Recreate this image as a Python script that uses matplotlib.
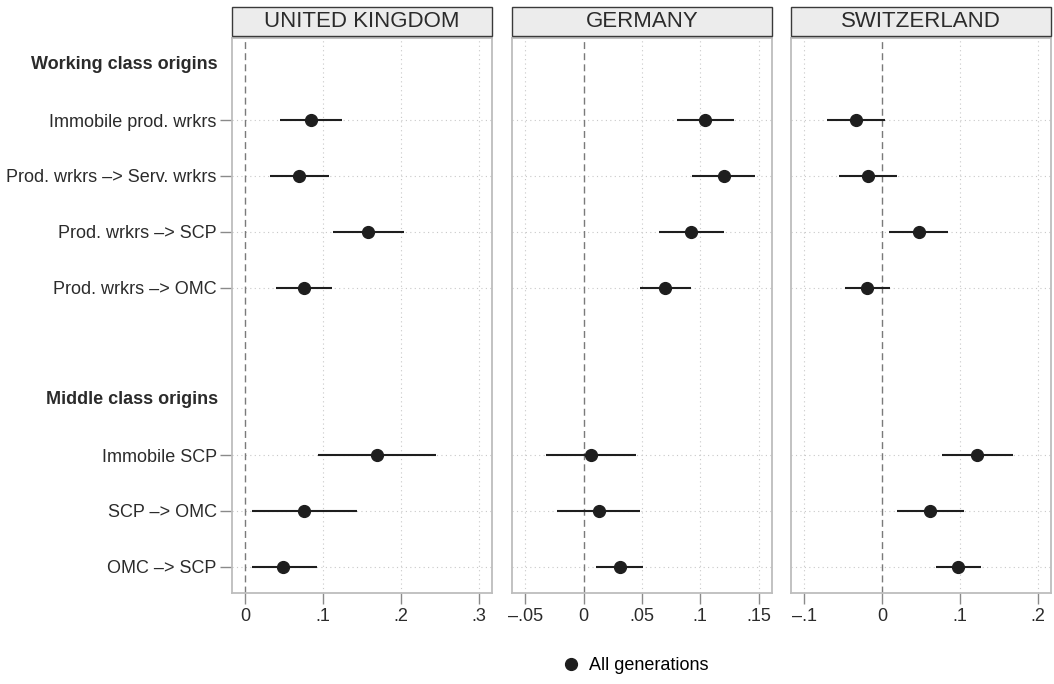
import matplotlib
matplotlib.use("Agg")
import matplotlib.pyplot as plt
from matplotlib.patches import Rectangle
from matplotlib.lines import Line2D
import numpy as np

plt.rcParams['font.family'] = ['Liberation Sans', 'DejaVu Sans']

# ---------------- data ----------------
countries = ["UNITED KINGDOM", "GERMANY", "SWITZERLAND"]
header_labels = ["Working class origins", "Middle class origins"]
header_rows = [0, 6]
row_labels = ["Immobile prod. wrkrs", "Prod. wrkrs \u2013> Serv. wrkrs",
              "Prod. wrkrs \u2013> SCP", "Prod. wrkrs \u2013> OMC",
              "Immobile SCP", "SCP \u2013> OMC", "OMC \u2013> SCP"]
row_pos = [1, 2, 3, 4, 7, 8, 9]

uk_est = [0.084, 0.069, 0.158, 0.076, 0.169, 0.076, 0.049]
uk_lo = [0.045, 0.032, 0.113, 0.039, 0.093, 0.008, 0.008]
uk_hi = [0.124, 0.107, 0.204, 0.112, 0.245, 0.144, 0.092]

de_est = [0.104, 0.120, 0.092, 0.070, 0.006, 0.013, 0.031]
de_lo = [0.080, 0.093, 0.065, 0.048, -0.032, -0.023, 0.011]
de_hi = [0.129, 0.147, 0.120, 0.092, 0.045, 0.048, 0.051]

ch_est = [-0.033, -0.018, 0.047, -0.019, 0.122, 0.062, 0.098]
ch_lo = [-0.071, -0.055, 0.009, -0.048, 0.077, 0.019, 0.069]
ch_hi = [0.004, 0.019, 0.085, 0.010, 0.168, 0.105, 0.127]

xticks_uk = [0, 0.1, 0.2, 0.3]
xticklabels_uk = ["0", ".1", ".2", ".3"]
xticks_de = [-0.05, 0, 0.05, 0.1, 0.15]
xticklabels_de = ["\u2013.05", "0", ".05", ".1", ".15"]
xticks_ch = [-0.1, 0, 0.1, 0.2]
xticklabels_ch = ["\u2013.1", "0", ".1", ".2"]

xlims = [(-0.0171, 0.317), (-0.0614, 0.1615), (-0.117, 0.217)]
legend_label = "All generations"

# ---------------- layout ----------------
W, H = 1054, 684
fig = plt.figure(figsize=(W / 100, H / 100), dpi=100)
fig.patch.set_facecolor("white")

panel_x = [232, 512, 791]
panel_w = 260
top_px, bot_px = 38, 593
head_top, head_bot = 7, 36

ests = [uk_est, de_est, ch_est]
los = [uk_lo, de_lo, ch_lo]
his = [uk_hi, de_hi, ch_hi]
xts = [xticks_uk, xticks_de, xticks_ch]
xtls = [xticklabels_uk, xticklabels_de, xticklabels_ch]

frame_col = "#bdbdbd"
grid_col = "#c8c8c8"
text_col = "#2b2b2b"
mark_col = "#1e1e1e"
fs = 13

for i in range(3):
    ax = fig.add_axes([panel_x[i] / W, (H - bot_px) / H, panel_w / W, (bot_px - top_px) / H])
    ax.set_xlim(*xlims[i])
    ax.set_ylim(9.47, -0.47)
    # grid
    for xt in xts[i]:
        if xt != 0:
            ax.axvline(xt, color=grid_col, lw=0.8, ls=(0, (1, 3)), zorder=0)
    for yp in row_pos:
        ax.axhline(yp, color=grid_col, lw=0.8, ls=(0, (1, 3)), zorder=0)
    ax.axvline(0, color="#7a7a7a", lw=1.0, ls=(0, (5, 3)), zorder=1)
    # CIs and points
    ax.hlines(row_pos, los[i], his[i], color=mark_col, lw=1.5, zorder=2)
    ax.plot(ests[i], row_pos, 'o', color=mark_col, ms=8.5, zorder=3, ls='none')
    # ticks
    ax.set_xticks(xts[i])
    ax.set_xticklabels(xtls[i], fontsize=fs, color=text_col)
    ax.tick_params(axis='x', direction='out', length=8, width=1.0, color="#8a8a8a", pad=3)
    for s in ax.spines.values():
        s.set_color(frame_col)
        s.set_linewidth(1.3)
    if i == 0:
        ax.set_yticks(row_pos)
        ax.set_yticklabels(row_labels, fontsize=fs, color=text_col)
        ax.tick_params(axis='y', direction='out', length=9, width=1.0, color="#8a8a8a", pad=2)
        for hl, hr in zip(header_labels, header_rows):
            ax.text(-0.054, hr, hl, transform=ax.get_yaxis_transform(), ha='right', va='center',
                    fontsize=fs, fontweight='bold', color=text_col)
    else:
        ax.set_yticks([])
    # header strip
    rect = Rectangle((panel_x[i] / W, (H - head_bot) / H), panel_w / W, (head_bot - head_top) / H,
                     transform=fig.transFigure, facecolor="#ececec", edgecolor="#3a3a3a", lw=1.0)
    fig.patches.append(rect)
    fig.text((panel_x[i] + panel_w / 2) / W, (H - (head_top + head_bot) / 2) / H, countries[i],
             ha='center', va='center', fontsize=16, color=text_col)

handle = Line2D([], [], marker='o', color=mark_col, ls='none', ms=8.5)
fig.legend([handle], [legend_label], loc='center', bbox_to_anchor=(634 / W, 1 - 666 / H),
           frameon=False, fontsize=fs, handletextpad=0.4, handlelength=1.2)

fig.savefig("out.png", dpi=100)
